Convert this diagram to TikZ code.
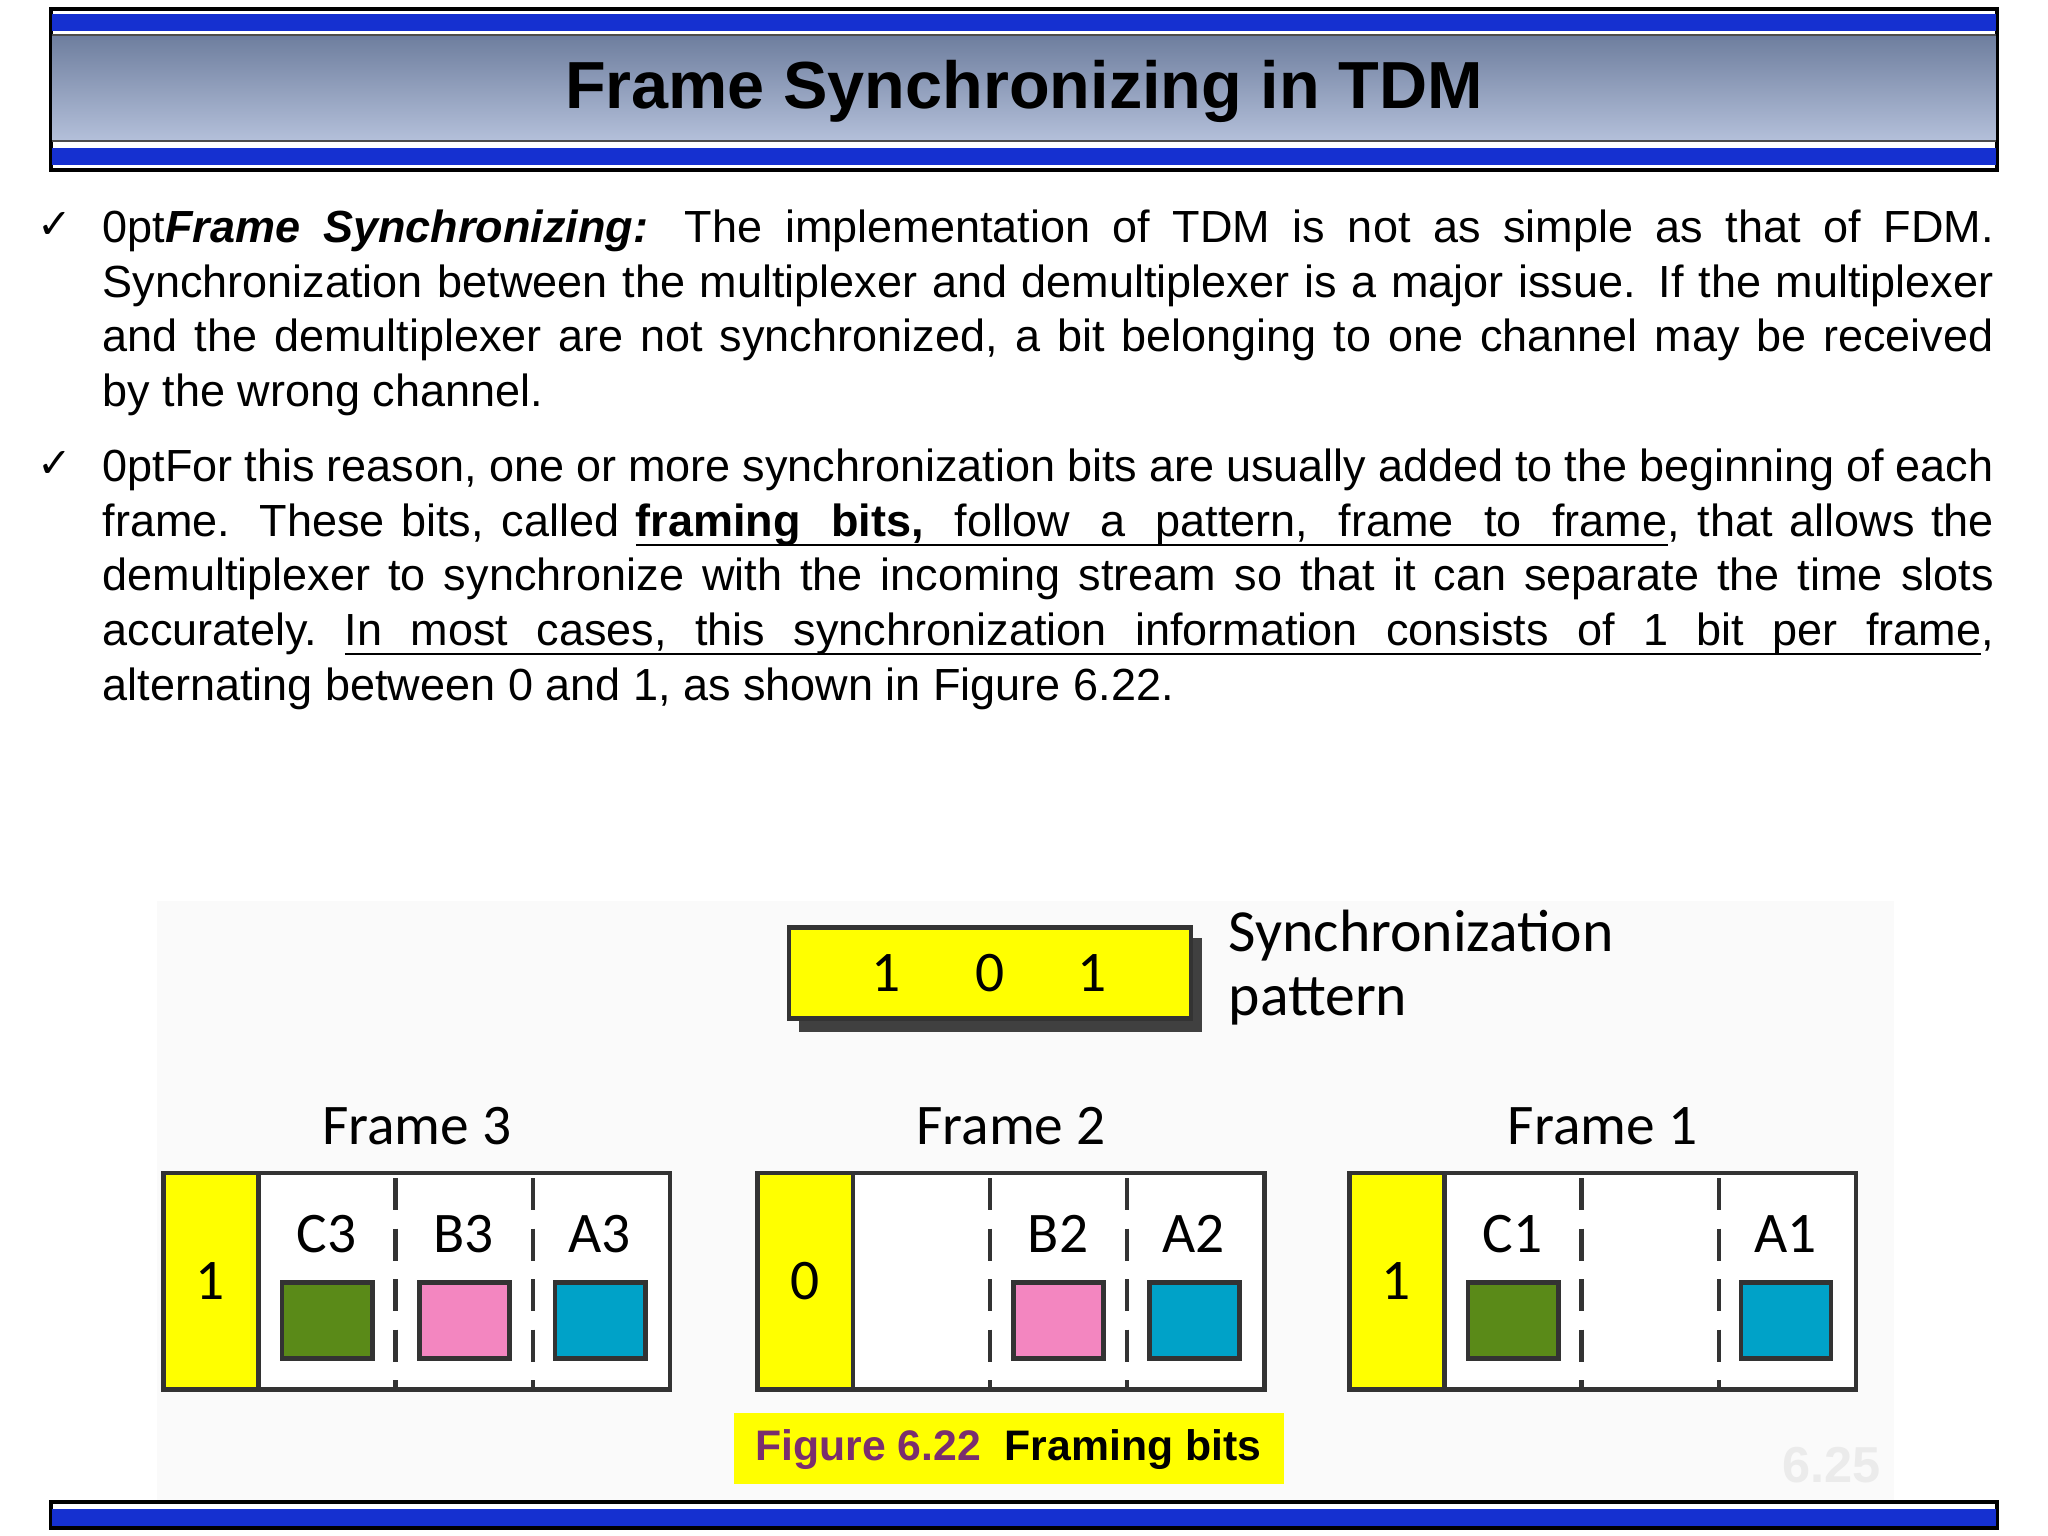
\documentclass[tikz,border=0pt]{standalone}
\usepackage{fontspec}
\setmainfont{Liberation Sans}
\newfontfamily\dfont{Carlito}
\newfontfamily\djv{DejaVu Sans}
\newcommand\ulw[1]{\setbox0\hbox{#1}\rlap{\rule[-2.1pt]{\wd0}{0.5pt}}\box0}
\newcommand\uls{\leaders\hrule height -1.6pt depth 2.1pt\hskip 0.278em plus 0.6em minus 0.09em\relax}
\definecolor{bandblue}{HTML}{1530D0}
\definecolor{hdtop}{HTML}{6E7E9E}
\definecolor{hdbot}{HTML}{B4C0DA}
\definecolor{syel}{HTML}{FFFF00}
\definecolor{sgreen}{HTML}{5A8A18}
\definecolor{spink}{HTML}{F386C0}
\definecolor{scyan}{HTML}{00A2C8}
\definecolor{figpurple}{HTML}{7A2E6E}
\tikzset{
  frm/.style={draw=black!80,line width=1pt},
  ybox/.style={fill=syel,draw=black!80,line width=1pt},
  sq/.style={draw=black!80,line width=1pt},
  dv/.style={draw=black!80,line width=1pt,dash pattern=on 7pt off 4pt},
  lbl/.style={font=\dfont\fontsize{12.5pt}{14pt}\selectfont,inner sep=0pt},
  body/.style={anchor=north west,inner sep=0pt,text width=14.47cm,align=justify,font=\fontsize{9.8pt}{11.9pt}\selectfont\hyphenpenalty=10000},
}
\begin{document}
\begin{tikzpicture}[x=0.01cm,y=-0.01cm]
\useasboundingbox (0,0) rectangle (1568,1176);
% header
\draw[black,line width=0.8pt] (39,7) rectangle (1529,130);
\fill[bandblue] (40,11) rectangle (1528,24);
\shade[top color=hdtop,bottom color=hdbot] (40,27) rectangle (1528,108);
\draw[black!70] (40,27) -- (1528,27) (40,108) -- (1528,108);
\fill[bandblue] (40,113) rectangle (1528,126);
\node[font=\fontsize{14.5pt}{16pt}\selectfont\bfseries] (title) at (784,70) {Frame Synchronizing in TDM};
% body
\node[font=\djv\fontsize{9pt}{10pt}\selectfont] (c1) at (42,173) {✓};
\node[font=\djv\fontsize{9pt}{10pt}\selectfont] (c2) at (42,356) {✓};
\node[body] (p1) at (78,160) {\textbf{\textit{Frame Synchronizing:}} The implementation of TDM is not as simple as that of FDM.\linebreak Synchronization between the multiplexer and demultiplexer is a major issue. If the multiplexer\linebreak and the demultiplexer are not synchronized, a bit belonging to one channel may be received\linebreak by the wrong channel.};
\node[body] (p2) at (78,343) {For this reason, one or more synchronization bits are usually added to the beginning of each\linebreak frame. These bits, called \ulw{\textbf{framing}}\uls\ulw{\textbf{bits,}}\uls\ulw{follow}\uls\ulw{a}\uls\ulw{pattern,}\uls\ulw{frame}\uls\ulw{to}\uls\ulw{frame}, that allows the\linebreak demultiplexer to synchronize with the incoming stream so that it can separate the time slots\linebreak accurately. \ulw{In}\uls\ulw{most}\uls\ulw{cases,}\uls\ulw{this}\uls\ulw{synchronization}\uls\ulw{information}\uls\ulw{consists}\uls\ulw{of}\uls\ulw{1}\uls\ulw{bit}\uls\ulw{per}\uls\ulw{frame},\linebreak alternating between 0 and 1, as shown in Figure 6.22.};
% diagram background
\fill[black!2] (120,690) rectangle (1450,1150);
% sync pattern
\fill[black!75] (612,718) rectangle (920,790);
\draw[ybox] (604,710) rectangle (912,780);
\node[lbl] (s1) at (678,745) {1};
\node[lbl] (s0) at (758,745) {0};
\node[lbl] (s2) at (836,745) {1};
\node[lbl,anchor=west,align=left,font=\dfont\fontsize{13pt}{15pt}\selectfont] (sp) at (940,741) {Synchronization\\[-1pt]pattern};
% frames
\foreach \x/\n/\b/\cl/\bl/\al in {125/3/1/C3/B3/A3, 580/2/0/{}/B2/A2, 1033/1/1/C1/{}/A1}{
  \draw[frm,fill=white] (\x,898) rectangle ++(388,166);
  \draw[ybox] (\x,898) rectangle ++(73,166);
  \draw[dv] ({\x+178},902) -- ({\x+178},1062);
  \draw[dv] ({\x+283},902) -- ({\x+283},1062);
  \node[lbl] at ({\x+36},981) {\b};
  \node[lbl] at ({\x+194},862) {Frame \n};
  \node[lbl] at ({\x+125},945) {\cl};
  \node[lbl] at ({\x+230},945) {\bl};
  \node[lbl] at ({\x+334},945) {\al};
  \draw[sq,fill=scyan] ({\x+300},982) rectangle ++(69,58);
}
\draw[sq,fill=sgreen] (216,982) rectangle ++(69,58);
\draw[sq,fill=spink] (321,982) rectangle ++(69,58);
\draw[sq,fill=spink] (776,982) rectangle ++(69,58);
\draw[sq,fill=sgreen] (1124,982) rectangle ++(69,58);
% caption
\fill[syel] (562,1082) rectangle (983,1136);
\node[font=\fontsize{9.3pt}{11pt}\selectfont\bfseries] (cap) at (772,1110) {\textcolor{figpurple}{Figure 6.22}\ \ Framing bits};
\node[font=\fontsize{11pt}{12pt}\selectfont\bfseries,text=black!8] (pg) at (1402,1122) {6.25};
% footer
\draw[black,line width=0.8pt] (39,1150) rectangle (1529,1170);
\fill[bandblue] (40,1155) rectangle (1528,1168);
\end{tikzpicture}
\end{document}
